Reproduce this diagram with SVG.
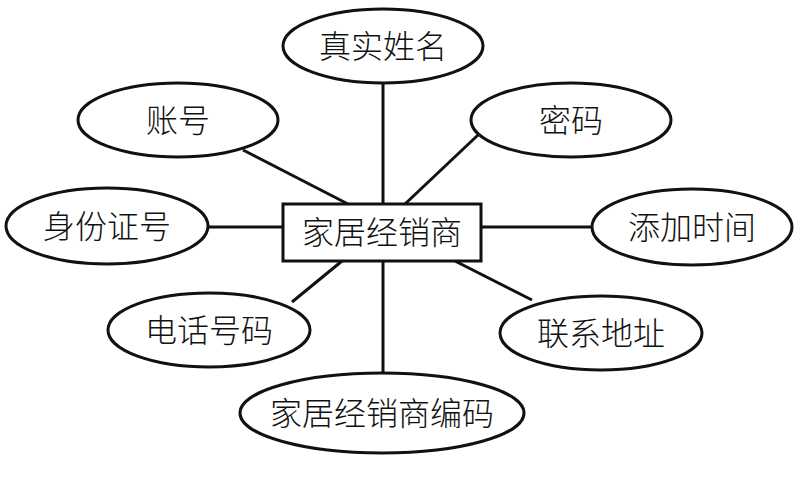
<svg xmlns="http://www.w3.org/2000/svg" width="799" height="477" viewBox="0 0 799 477">
<style>
.e{fill:#fff;stroke:#111;stroke-width:3}
.r{fill:#fff;stroke:#111;stroke-width:3}
.c line{stroke:#111;stroke-width:3}
text{font-family:"Noto Sans CJK SC","Noto Sans CJK JP",sans-serif;font-size:32px;font-weight:300;fill:#111;text-anchor:middle}
</style>
<rect width="799" height="477" fill="#fff"/>
<g class="c" id="connectors">
<line x1="383" y1="83" x2="383" y2="204"/>
<line x1="243" y1="150" x2="348" y2="204"/>
<line x1="478" y1="135" x2="405" y2="204"/>
<line x1="208" y1="227" x2="283" y2="227"/>
<line x1="481" y1="227" x2="592" y2="227"/>
<line x1="292" y1="302" x2="342" y2="261"/>
<line x1="532" y1="300" x2="455" y2="261"/>
<line x1="383" y1="261" x2="383" y2="374"/>
</g>
<g id="n-center"><rect class="r" x="283" y="204" width="198" height="57"/><text x="382" y="244">家居经销商</text></g>
<g id="n-name"><ellipse class="e" cx="383" cy="46" rx="100" ry="37"/><text x="383" y="58">真实姓名</text></g>
<g id="n-account"><ellipse class="e" cx="178" cy="120" rx="100" ry="37"/><text x="178" y="132">账号</text></g>
<g id="n-pwd"><ellipse class="e" cx="571" cy="120" rx="100" ry="37"/><text x="571" y="132">密码</text></g>
<g id="n-id"><ellipse class="e" cx="107" cy="226" rx="101" ry="38"/><text x="107" y="238">身份证号</text></g>
<g id="n-time"><ellipse class="e" cx="692" cy="227" rx="100" ry="38"/><text x="692" y="239">添加时间</text></g>
<g id="n-phone"><ellipse class="e" cx="209" cy="330" rx="101" ry="37"/><text x="209" y="342">电话号码</text></g>
<g id="n-addr"><ellipse class="e" cx="601" cy="333" rx="101" ry="37"/><text x="601" y="345">联系地址</text></g>
<g id="n-code"><ellipse class="e" cx="382" cy="413" rx="142" ry="40"/><text x="382" y="425">家居经销商编码</text></g>
</svg>
